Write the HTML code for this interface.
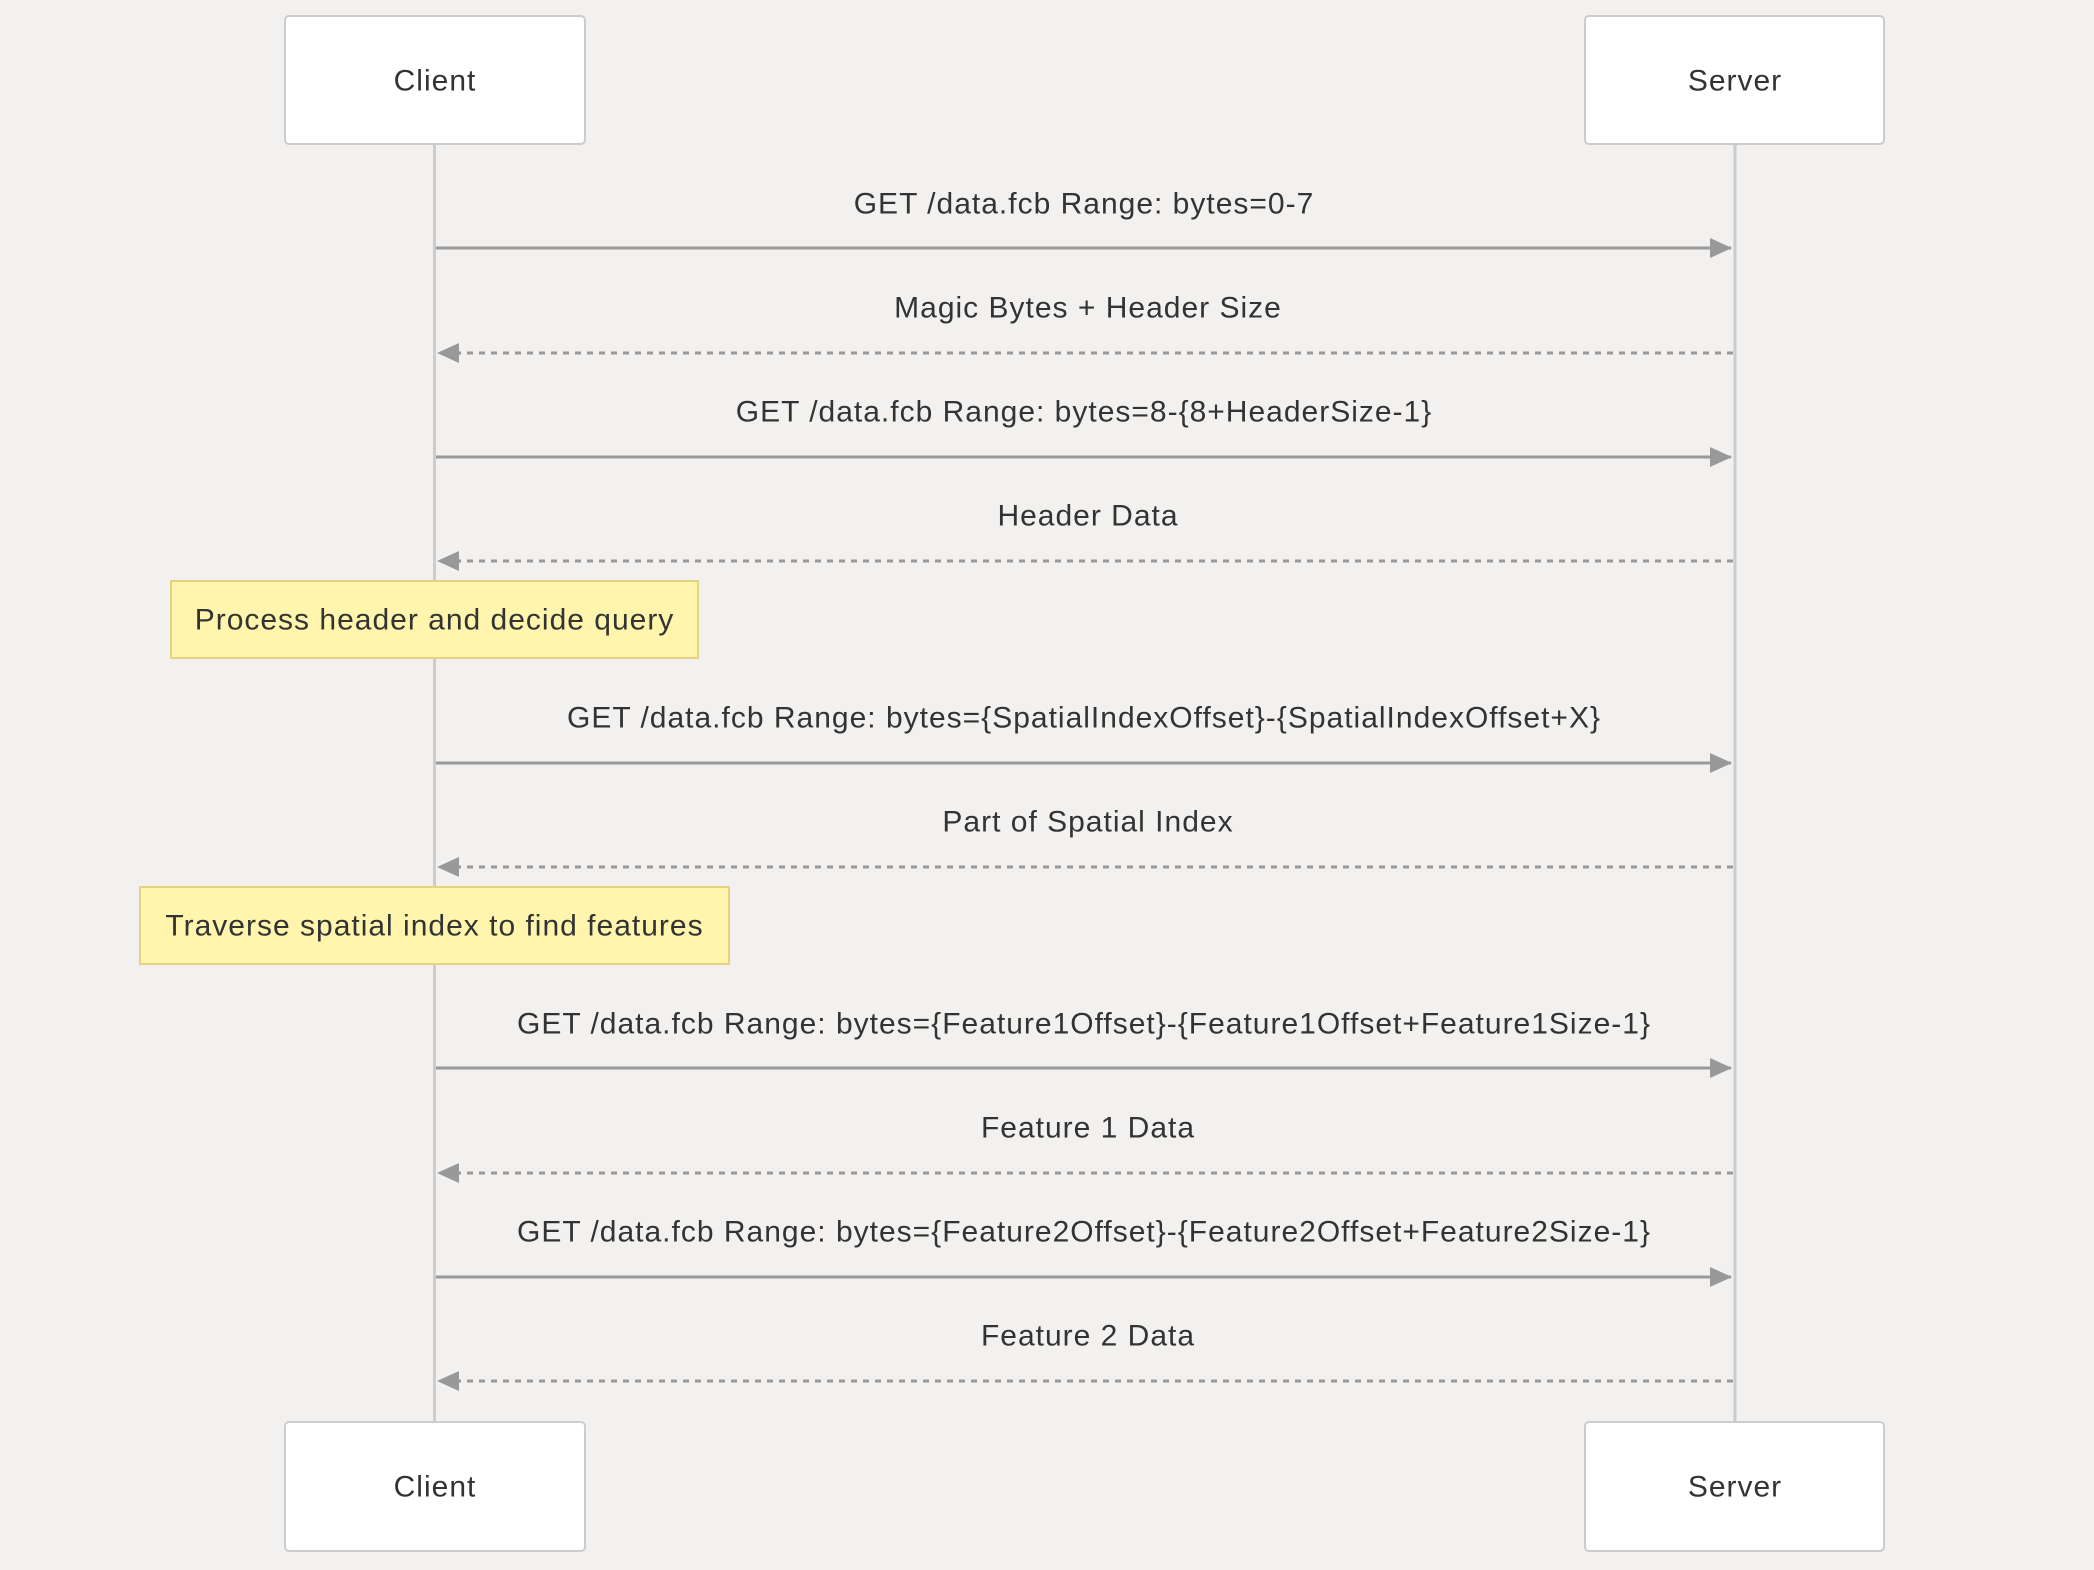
<!DOCTYPE html>
<html><head><meta charset="utf-8"><style>
html,body{margin:0;padding:0;background:#f2f1ef;}
svg{display:block}
text{font-family:"Liberation Sans",sans-serif;font-size:30px;letter-spacing:1px;fill:#333;}
</style></head><body>
<svg width="2094" height="1570" viewBox="0 0 2094 1570" xmlns="http://www.w3.org/2000/svg">
<defs>
<marker id="b" markerWidth="22" markerHeight="20" refX="21" refY="10" orient="auto" markerUnits="userSpaceOnUse" viewBox="0 0 22 20">
<path d="M0,0 L22,10 L0,20 z" fill="#999"/></marker>
</defs>
<rect width="2094" height="1570" fill="#f2f1ef"/>
<line x1="434.5" y1="144" x2="434.5" y2="1422" stroke="#ccc" stroke-width="3"/>
<line x1="1735" y1="144" x2="1735" y2="1422" stroke="#ccc" stroke-width="3"/>
<g fill="#fff" stroke="#ccc" stroke-width="2">
<rect x="285" y="16" width="300" height="128" rx="4"/>
<rect x="1585" y="16" width="299" height="128" rx="4"/>
<rect x="285" y="1422" width="300" height="129" rx="4"/>
<rect x="1585" y="1422" width="299" height="129" rx="4"/>
</g>
<g text-anchor="middle" dominant-baseline="central">
<text x="435" y="81">Client</text>
<text x="1735" y="81">Server</text>
<text x="435" y="1487">Client</text>
<text x="1735" y="1487">Server</text>
</g>
<g stroke="#999" stroke-width="3" fill="none">
<line x1="436" y1="248" x2="1731" y2="248" marker-end="url(#b)"/>
<line x1="1733" y1="353" x2="438" y2="353" stroke-dasharray="6,6" marker-end="url(#b)"/>
<line x1="436" y1="457" x2="1731" y2="457" marker-end="url(#b)"/>
<line x1="1733" y1="561" x2="438" y2="561" stroke-dasharray="6,6" marker-end="url(#b)"/>
<line x1="436" y1="763" x2="1731" y2="763" marker-end="url(#b)"/>
<line x1="1733" y1="867" x2="438" y2="867" stroke-dasharray="6,6" marker-end="url(#b)"/>
<line x1="436" y1="1068" x2="1731" y2="1068" marker-end="url(#b)"/>
<line x1="1733" y1="1173" x2="438" y2="1173" stroke-dasharray="6,6" marker-end="url(#b)"/>
<line x1="436" y1="1277" x2="1731" y2="1277" marker-end="url(#b)"/>
<line x1="1733" y1="1381" x2="438" y2="1381" stroke-dasharray="6,6" marker-end="url(#b)"/>
</g>
<g text-anchor="middle" dominant-baseline="central">
<text x="1084" y="204">GET /data.fcb Range: bytes=0-7</text>
<text x="1088" y="308">Magic Bytes + Header Size</text>
<text x="1084" y="412">GET /data.fcb Range: bytes=8-{8+HeaderSize-1}</text>
<text x="1088" y="516">Header Data</text>
<text x="1084" y="718">GET /data.fcb Range: bytes={SpatialIndexOffset}-{SpatialIndexOffset+X}</text>
<text x="1088" y="822">Part of Spatial Index</text>
<text x="1084" y="1024">GET /data.fcb Range: bytes={Feature1Offset}-{Feature1Offset+Feature1Size-1}</text>
<text x="1088" y="1128">Feature 1 Data</text>
<text x="1084" y="1232">GET /data.fcb Range: bytes={Feature2Offset}-{Feature2Offset+Feature2Size-1}</text>
<text x="1088" y="1336">Feature 2 Data</text>
</g>
<g fill="#fff5ad" stroke="#e6d280" stroke-width="2">
<rect x="171" y="581" width="527" height="77"/>
<rect x="140" y="887" width="589" height="77"/>
</g>
<g text-anchor="middle" dominant-baseline="central">
<text x="434.5" y="620">Process header and decide query</text>
<text x="434.5" y="926">Traverse spatial index to find features</text>
</g>
</svg>
</body></html>
